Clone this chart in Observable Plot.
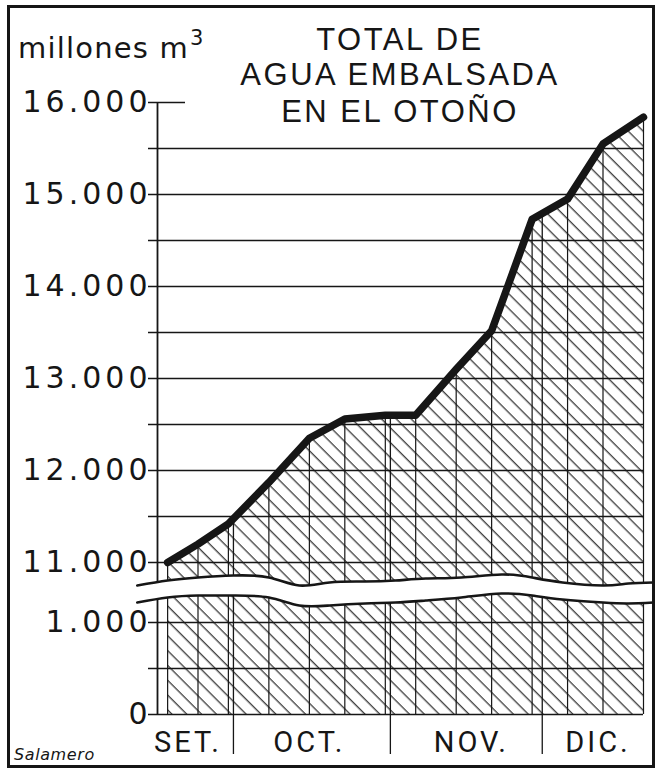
<!DOCTYPE html>
<html><head><meta charset="utf-8">
<script src="https://cdn.jsdelivr.net/npm/d3@7"></script>
<script src="https://cdn.jsdelivr.net/npm/@observablehq/plot@0.6"></script>
<style>
html,body{margin:0;padding:0;background:#fff;}
#wrap{position:relative;width:658px;height:769px;overflow:hidden;background:#fff;}
#frame{position:absolute;left:7px;top:5px;width:648px;height:763px;box-sizing:border-box;border:3px solid #161616;pointer-events:none;}
#chart svg{display:block;overflow:visible;}
</style></head><body>
<div id="wrap"><div id="chart"></div><div id="frame"></div></div>
<script>
// ---- text ----
const titleLines = ["TOTAL DE", "AGUA EMBALSADA", "EN EL OTOÑO"];
const unitLabel = "millones m";
const unitSup = "3";
const credit = "Salamero";

// ---- series: weekly total water stored (millones m3) ----
const weekDates = ["09-18","09-24","09-30","10-08","10-16","10-23","10-31","11-06","11-14","11-21","11-29","12-06","12-13","12-21"];
const reserves  = [11000, 11200, 11420, 11870, 12350, 12560, 12600, 12600, 13100, 13520, 14730, 14950, 15550, 15840];

// ---- month separators and labels ----
const monthDividers = ["10-01","11-01","12-01"];
const dividerTops   = [11460, 12600, 14790];
const monthNames    = ["SET.","OCT.","NOV.","DIC."];
const monthLabelAt  = ["09-22","10-16","11-17","12-12"];
const xDomainDates  = ["09-16","12-21"];

// ---- y ticks / grid ----
const upperTicks = [11000, 12000, 13000, 14000, 15000, 16000];
const lowerTicks = [0, 1000];
const upperGrid  = [11000, 11500, 12000, 12500, 13000, 13500, 14000, 14500, 15000, 15500];
const lowerGrid  = [0, 500, 1000];
const topTick    = [16000];

// ---- broken-axis edges (wavy cut) ----
const waveDates = ["09-12","09-18","09-24","10-01","10-08","10-14","10-20","10-27","11-02","11-08","11-15","11-23","11-29","12-05","12-13","12-18","12-23"];
const waveUpper = [10750, 10804, 10837, 10859, 10837, 10750, 10783, 10793, 10804, 10826, 10837, 10870, 10837, 10783, 10750, 10772, 10783];
const waveLower = [1217, 1272, 1293, 1293, 1272, 1185, 1185, 1207, 1217, 1239, 1272, 1315, 1293, 1250, 1217, 1207, 1217];

// scale break: values above the cut are shifted down
const BREAK_AT = 5000, BREAK_SHIFT = 9348;
const brk = v => v >= BREAK_AT ? v - BREAK_SHIFT : v;

const parse = d3.utcParse("%m-%d");
const es = d3.formatLocale({decimal: ",", thousands: ".", grouping: [3], currency: ["", ""]});
const fmt = es.format(",d");
const ink = "#161616";

const X0 = parse(xDomainDates[0]), X1 = parse(xDomainDates[1]);
const rows = weekDates.map((d, i) => ({date: parse(d), value: reserves[i]}));
const dividers = monthDividers.map((d, i) => ({date: parse(d), top: dividerTops[i]}));
const months = monthNames.map((m, i) => ({name: m, date: parse(monthLabelAt[i])}));
const waves = waveDates.map((d, i) => ({date: parse(d), hi: waveUpper[i], lo: waveLower[i]}));

const plot = Plot.plot({
  width: 658, height: 769,
  marginLeft: 157, marginRight: 15, marginTop: 102, marginBottom: 55,
  x: {type: "utc", domain: [X0, X1], axis: null},
  y: {domain: [0, brk(16000)], axis: null},
  style: {background: "transparent", color: ink},
  marks: [
    Plot.areaY(rows, {x: "date", y1: 0, y2: d => brk(d.value), fill: "url(#hatch)"}),
    Plot.ruleX(rows, {x: "date", y1: 0, y2: d => brk(d.value), stroke: ink, strokeWidth: 1.2}),
    Plot.ruleX(dividers, {x: "date", y1: d => brk(d.top), y2: 0, insetBottom: -40, stroke: ink, strokeWidth: 1.3}),
    Plot.ruleY(upperGrid.concat(lowerGrid), {y: brk, insetLeft: -9, stroke: ink, strokeWidth: 1.3}),
    Plot.ruleY(topTick, {y: brk, x1: () => X0, x2: () => X0, insetLeft: -9, insetRight: -28, stroke: ink, strokeWidth: 1.3}),
    Plot.ruleX([X0], {y1: 0, y2: brk(16000), stroke: ink, strokeWidth: 1.8}),
    Plot.areaY(waves, {x: "date", y1: d => brk(d.lo), y2: d => brk(d.hi), fill: "white", curve: "natural"}),
    Plot.line(waves, {x: "date", y: d => brk(d.hi), curve: "natural", stroke: ink, strokeWidth: 2.6}),
    Plot.line(waves, {x: "date", y: d => brk(d.lo), curve: "natural", stroke: ink, strokeWidth: 2.6}),
    Plot.line(rows, {x: "date", y: d => brk(d.value), stroke: ink, strokeWidth: 7.5, strokeLinejoin: "round", strokeLinecap: "round"}),
    Plot.text(upperTicks.concat(lowerTicks), {x: () => X0, y: brk, text: fmt, textAnchor: "end", dx: -6, fontSize: 30, fontFamily: "DejaVu Sans", fill: ink}),
    Plot.text(months, {x: "date", y: () => 0, text: "name", dy: 28, fontSize: 29, fontFamily: "Roboto", fill: ink})
  ]
});

const svg = d3.select(plot);
const pat = svg.insert("defs", ":first-child").append("pattern")
  .attr("id", "hatch").attr("patternUnits", "userSpaceOnUse")
  .attr("width", 10.5).attr("height", 10.5).attr("patternTransform", "rotate(-45)");
pat.append("line").attr("x1", 5).attr("y1", -1).attr("x2", 5).attr("y2", 12)
  .attr("stroke", ink).attr("stroke-width", 1.1);

const textGroups = svg.selectAll('g[aria-label="text"]').nodes();
if (textGroups[0]) textGroups[0].setAttribute("letter-spacing", "4");
if (textGroups[1]) textGroups[1].setAttribute("letter-spacing", "3");

const ann = svg.append("g").attr("fill", ink).attr("font-family", "DejaVu Sans");
const titleY = [50, 85, 122];
titleLines.forEach((t, i) => {
  ann.append("text").attr("x", 400).attr("y", titleY[i]).attr("text-anchor", "middle")
    .attr("font-family", "Liberation Sans").attr("font-size", 31).attr("letter-spacing", 2.5).text(t);
});
const u = ann.append("text").attr("x", 18).attr("y", 58).attr("text-anchor", "start")
  .attr("font-size", 29).attr("letter-spacing", 1.2);
u.append("tspan").text(unitLabel);
u.append("tspan").attr("font-size", 21).attr("dy", -13).attr("dx", 1).text(unitSup);
ann.append("text").attr("x", 14).attr("y", 760).attr("text-anchor", "start")
  .attr("font-size", 16).attr("font-style", "italic").attr("letter-spacing", 0.6).text(credit);

document.getElementById("chart").append(plot);
</script>
</body></html>
